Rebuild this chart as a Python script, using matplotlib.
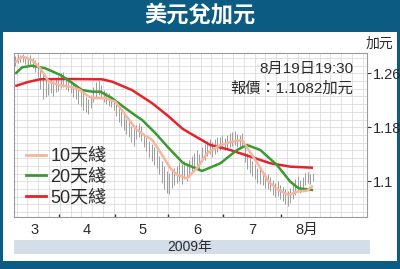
"""
usd_cad_chart.py
USD/CAD daily bars with 10/20/50-day moving averages (Mar-Aug 2009).
"""
import matplotlib
matplotlib.use("Agg")
import matplotlib.pyplot as plt
import matplotlib.patches as mpatches
from matplotlib import font_manager
import numpy as np

# Palette
BG_BLUE = "#0b5b82"
BAND = "#d4dee8"
GRID = "#d6d6d6"
BARS = "#9c9c9c"
TEXT = "#2b2b2b"
MA10_C = "#f6b59c"
MA20_C = "#3a9a30"
MA50_C = "#e8222b"

_names = {f.name for f in font_manager.fontManager.ttflist}
NUM_FONT = "Liberation Sans Narrow" if "Liberation Sans Narrow" in _names else "Liberation Sans"
FAMILY = [NUM_FONT, "Noto Sans CJK TC", "DejaVu Sans"]
plt.rcParams["font.family"] = FAMILY

# Daily highs / lows (one per trading day, early Mar -> 19 Aug 2009)
highs = [1.285, 1.288, 1.287, 1.289, 1.286, 1.284, 1.287, 1.283, 1.280, 1.276,
         1.270, 1.262, 1.252, 1.245, 1.250, 1.248, 1.252, 1.256, 1.260, 1.262,
         1.255, 1.252, 1.248, 1.245, 1.240, 1.238, 1.235, 1.232, 1.225, 1.222,
         1.228, 1.240, 1.247, 1.248, 1.242, 1.235, 1.232, 1.230, 1.226, 1.222,
         1.214, 1.208, 1.204, 1.198, 1.192, 1.188, 1.182, 1.178, 1.184, 1.186,
         1.182, 1.170, 1.165, 1.160, 1.155, 1.150, 1.147, 1.138, 1.130, 1.122,
         1.115, 1.112, 1.118, 1.120, 1.122, 1.128, 1.125, 1.130, 1.126, 1.132,
         1.138, 1.142, 1.146, 1.140, 1.150, 1.155, 1.160, 1.163, 1.158, 1.162,
         1.165, 1.166, 1.168, 1.164, 1.169, 1.171, 1.173, 1.174, 1.170, 1.168,
         1.172, 1.155, 1.142, 1.135, 1.130, 1.125, 1.120, 1.118, 1.115, 1.112,
         1.110, 1.106, 1.102, 1.098, 1.100, 1.095, 1.092, 1.088, 1.086, 1.090,
         1.095, 1.103, 1.108, 1.102, 1.107, 1.112, 1.114, 1.110, 1.112]
lows = [1.270, 1.275, 1.276, 1.277, 1.274, 1.272, 1.273, 1.268, 1.262, 1.255,
        1.236, 1.222, 1.225, 1.228, 1.230, 1.227, 1.232, 1.234, 1.238, 1.240,
        1.236, 1.233, 1.230, 1.225, 1.222, 1.215, 1.212, 1.205, 1.202, 1.200,
        1.208, 1.218, 1.225, 1.228, 1.224, 1.218, 1.214, 1.212, 1.210, 1.205,
        1.196, 1.188, 1.182, 1.176, 1.170, 1.165, 1.158, 1.152, 1.162, 1.165,
        1.160, 1.150, 1.145, 1.136, 1.130, 1.124, 1.120, 1.110, 1.098, 1.088,
        1.082, 1.081, 1.090, 1.094, 1.098, 1.100, 1.096, 1.104, 1.100, 1.106,
        1.112, 1.118, 1.122, 1.118, 1.128, 1.132, 1.138, 1.140, 1.136, 1.140,
        1.144, 1.146, 1.148, 1.146, 1.148, 1.150, 1.152, 1.154, 1.150, 1.148,
        1.150, 1.128, 1.118, 1.112, 1.108, 1.104, 1.098, 1.096, 1.094, 1.090,
        1.088, 1.085, 1.080, 1.076, 1.078, 1.074, 1.071, 1.066, 1.064, 1.068,
        1.074, 1.080, 1.085, 1.082, 1.088, 1.094, 1.097, 1.096, 1.100]

# Moving averages (bar index, value)
ma10_idx = [0, 2.7, 6.6, 9.9, 13.3, 17.2, 21.8, 25.2, 29.1, 31.8, 35.7, 39.7,
            43.7, 47.6, 51, 54.3, 58.2, 61.5, 64.2, 68, 72, 76, 81.3, 85.9,
            89.9, 92.5, 96.4, 100.4, 104.4, 108.3, 111.7, 115.6, 118]
ma10 = [1.276, 1.2845, 1.2796, 1.2673, 1.2475, 1.2426, 1.240, 1.2362, 1.2253,
        1.2229, 1.2229, 1.2179, 1.1982, 1.1784, 1.1685, 1.1611, 1.1389, 1.1192,
        1.1093, 1.1044, 1.1192, 1.1414, 1.1537, 1.1586, 1.1611, 1.1463, 1.1241,
        1.0993, 1.087, 1.0796, 1.0845, 1.086, 1.0934]

ma20_idx = [0, 2.7, 6.6, 11.9, 17.9, 21.8, 26.5, 30.5, 33.7, 38.4, 43.7, 48.3,
            50.3, 55.6, 60.9, 66.5, 74, 81.3, 87.9, 91.8, 97.1, 103.7, 109,
            112.3, 118]
ma20 = [1.259, 1.2688, 1.2712, 1.2673, 1.2574, 1.2475, 1.235, 1.2327, 1.2327,
        1.2229, 1.208, 1.1957, 1.1907, 1.171, 1.1488, 1.127, 1.1152, 1.1266,
        1.1463, 1.1537, 1.1463, 1.1241, 1.0993, 1.0896, 1.087]

ma50_idx = [0, 5, 9.8, 20, 34.4, 38.4, 46.3, 54.3, 60.9, 66.2, 69.3, 77.3,
            85.2, 93.2, 101.1, 109, 118]
ma50 = [1.241, 1.247, 1.251, 1.2515, 1.251, 1.2475, 1.235, 1.2155, 1.1957,
        1.178, 1.171, 1.1537, 1.1463, 1.1364, 1.1266, 1.1216, 1.120]

month_bounds = [17.5, 39.5, 60.5, 82.5, 105.5]
month_pos = [7.8, 28.5, 50.3, 72.1, 93.9, 115.4]
month_labels = ["3", "4", "5", "6", "7", "8月"]
y_ticks = [1.1, 1.18, 1.26]
y_labels = ["1.1", "1.18", "1.26"]
legend_labels = ["10天綫", "20天綫", "50天綫"]

fig = plt.figure(figsize=(4.0, 2.69), dpi=100)
fig.patch.set_facecolor(BG_BLUE)

# white panel and year band (behind the axes)
fig.patches.append(mpatches.Rectangle((3 / 400, 1 - 261 / 269), 394 / 400, 229 / 269,
                                      transform=fig.transFigure, facecolor="white",
                                      edgecolor="none", zorder=-2))
fig.patches.append(mpatches.Rectangle((14 / 400, 1 - 254 / 269), 356 / 400, 14 / 269,
                                      transform=fig.transFigure, facecolor=BAND,
                                      edgecolor="none", zorder=-1))

ax = fig.add_axes([14 / 400, 1 - 217 / 269, 352.5 / 400, 164 / 269])
ax.set_facecolor("white")
ax.set_xlim(-0.5, 139.2)
ax.set_ylim(1.047, 1.29)

# grid
for gx in np.arange(0.5, 139, 4.29):
    ax.axvline(gx, color=GRID, lw=0.5, zorder=1)
for gy in np.arange(1.26 + 3 * 0.08 / 7, 1.04, -0.08 / 7):
    ax.axhline(gy, color=GRID, lw=0.5, zorder=1)

x = np.arange(len(highs))
ax.vlines(x, lows, highs, color=BARS, lw=0.7, zorder=2)

ax.plot(ma50_idx, ma50, color=MA50_C, lw=1.8, zorder=3, solid_capstyle="butt")
ax.plot(ma20_idx, ma20, color=MA20_C, lw=1.8, zorder=4, solid_capstyle="butt")
ax.plot(ma10_idx, ma10, color=MA10_C, lw=1.8, zorder=5, solid_capstyle="butt")

for spine in ax.spines.values():
    spine.set_edgecolor("#9a9a9a")
    spine.set_linewidth(0.8)

ax.set_xticks(month_bounds)
ax.set_xticklabels([])
ax.set_xticks(month_pos, minor=True)
ax.set_xticklabels(month_labels, minor=True)
ax.tick_params(axis="x", which="major", direction="in", length=2.5, width=1, color="#333333")
ax.tick_params(axis="x", which="minor", length=0, pad=4, labelsize=10.5, labelcolor=TEXT)

ax.yaxis.tick_right()
ax.set_yticks(y_ticks)
ax.set_yticklabels(y_labels)
ax.tick_params(axis="y", direction="out", length=3, width=0.8, pad=1.5,
               labelsize=10.5, labelcolor=TEXT, color="#333333")

handles = [plt.Line2D([], [], color=c, lw=2) for c in (MA10_C, MA20_C, MA50_C)]
leg = fig.legend(handles, legend_labels, loc="upper left",
                 bbox_to_anchor=(26 / 400, 1 - 148 / 269), frameon=False,
                 fontsize=13, handlelength=1.1, handletextpad=0.25,
                 labelspacing=0.2, borderpad=0, borderaxespad=0)
for t in leg.get_texts():
    t.set_color(TEXT)

fig.text(0.5, 1 - 16 / 269, "美元兌加元", ha="center", va="center", color="white",
         fontsize=16, fontweight="bold")
fig.text(379 / 400, 1 - 44 / 269, "加元", ha="center", va="center", color=TEXT, fontsize=10)
fig.text(353 / 400, 1 - 69 / 269, "8月19日19:30", ha="right", va="center",
         color=TEXT, fontsize=11)
fig.text(353 / 400, 1 - 88.5 / 269, "報價：1.1082加元", ha="right", va="center",
         color=TEXT, fontsize=11)
fig.text(190 / 400, 1 - 247 / 269, "2009年", ha="center", va="center",
         color=TEXT, fontsize=10)

fig.savefig("out.png", dpi=100, facecolor=fig.get_facecolor())
plt.close(fig)
